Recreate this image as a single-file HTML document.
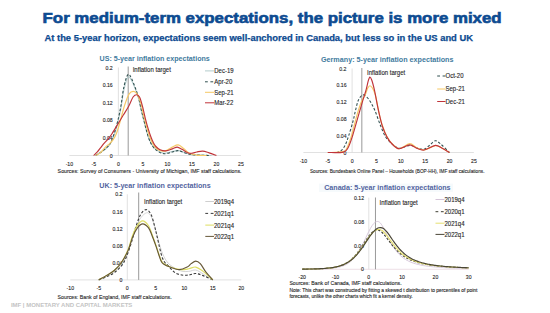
<!DOCTYPE html>
<html><head><meta charset="utf-8"><style>
html,body{margin:0;padding:0;background:#fff;width:550px;height:313px;overflow:hidden}
svg{display:block;font-family:"Liberation Sans", sans-serif}
</style></head><body>
<svg width="550" height="313" viewBox="0 0 550 313">
<rect width="550" height="313" fill="#ffffff"/>
<text x="42.6" y="22.8" font-size="14.5" font-weight="bold" fill="#0d4b91" stroke="#0d4b91" stroke-width="0.6" textLength="459" lengthAdjust="spacingAndGlyphs">For medium-term expectations, the picture is more mixed</text>
<text x="44.5" y="40.8" font-size="9" font-weight="bold" fill="#0d4b91" stroke="#0d4b91" stroke-width="0.25" textLength="428.5" lengthAdjust="spacingAndGlyphs">At the 5-year horizon, expectations seem well-anchored in Canada, but less so in the US and UK</text>
<line x1="69.40" y1="155.50" x2="240.90" y2="155.50" stroke="#d9d9d9" stroke-width="0.8"/>
<line x1="118.40" y1="155.50" x2="118.40" y2="67.50" stroke="#d9d9d9" stroke-width="0.8"/>
<text x="112.7" y="69.6" font-size="6.0" fill="#262626" font-weight="normal" text-anchor="end" textLength="7.2" lengthAdjust="spacingAndGlyphs" stroke="#262626" stroke-width="0.12">0.2</text>
<text x="112.7" y="87.2" font-size="6.0" fill="#262626" font-weight="normal" text-anchor="end" textLength="10.0" lengthAdjust="spacingAndGlyphs" stroke="#262626" stroke-width="0.12">0.16</text>
<text x="112.7" y="104.8" font-size="6.0" fill="#262626" font-weight="normal" text-anchor="end" textLength="10.0" lengthAdjust="spacingAndGlyphs" stroke="#262626" stroke-width="0.12">0.12</text>
<text x="112.7" y="122.4" font-size="6.0" fill="#262626" font-weight="normal" text-anchor="end" textLength="10.0" lengthAdjust="spacingAndGlyphs" stroke="#262626" stroke-width="0.12">0.08</text>
<text x="112.7" y="140.0" font-size="6.0" fill="#262626" font-weight="normal" text-anchor="end" textLength="10.0" lengthAdjust="spacingAndGlyphs" stroke="#262626" stroke-width="0.12">0.04</text>
<text x="112.7" y="157.6" font-size="6.0" fill="#262626" font-weight="normal" text-anchor="end" textLength="2.9" lengthAdjust="spacingAndGlyphs" stroke="#262626" stroke-width="0.12">0</text>
<text x="69.4" y="165.6" font-size="6.0" fill="#262626" font-weight="normal" text-anchor="middle" textLength="7.5" lengthAdjust="spacingAndGlyphs" stroke="#262626" stroke-width="0.12">-10</text>
<text x="93.9" y="165.6" font-size="6.0" fill="#262626" font-weight="normal" text-anchor="middle" textLength="4.6" lengthAdjust="spacingAndGlyphs" stroke="#262626" stroke-width="0.12">-5</text>
<text x="118.4" y="165.6" font-size="6.0" fill="#262626" font-weight="normal" text-anchor="middle" textLength="2.9" lengthAdjust="spacingAndGlyphs" stroke="#262626" stroke-width="0.12">0</text>
<text x="142.9" y="165.6" font-size="6.0" fill="#262626" font-weight="normal" text-anchor="middle" textLength="2.9" lengthAdjust="spacingAndGlyphs" stroke="#262626" stroke-width="0.12">5</text>
<text x="167.4" y="165.6" font-size="6.0" fill="#262626" font-weight="normal" text-anchor="middle" textLength="5.7" lengthAdjust="spacingAndGlyphs" stroke="#262626" stroke-width="0.12">10</text>
<text x="191.9" y="165.6" font-size="6.0" fill="#262626" font-weight="normal" text-anchor="middle" textLength="5.7" lengthAdjust="spacingAndGlyphs" stroke="#262626" stroke-width="0.12">15</text>
<text x="216.4" y="165.6" font-size="6.0" fill="#262626" font-weight="normal" text-anchor="middle" textLength="5.7" lengthAdjust="spacingAndGlyphs" stroke="#262626" stroke-width="0.12">20</text>
<text x="240.9" y="165.6" font-size="6.0" fill="#262626" font-weight="normal" text-anchor="middle" textLength="5.7" lengthAdjust="spacingAndGlyphs" stroke="#262626" stroke-width="0.12">25</text>
<line x1="128.20" y1="155.50" x2="128.20" y2="66.50" stroke="#999999" stroke-width="1.0"/>
<text x="132.7" y="72.2" font-size="6.6" fill="#262626" font-weight="normal" textLength="38.2" lengthAdjust="spacingAndGlyphs" stroke="#262626" stroke-width="0.12">Inflation target</text>
<path d="M94.88,155.50 C95.94,154.91 99.37,153.15 101.25,151.98 C103.13,150.81 104.76,149.63 106.15,148.46 C107.54,147.29 108.60,146.26 109.58,144.94 C110.56,143.62 111.17,142.45 112.03,140.54 C112.89,138.63 113.75,136.58 114.73,133.50 C115.71,130.42 116.85,126.46 117.91,122.06 C118.97,117.66 120.11,112.38 121.09,107.10 C122.08,101.82 122.65,95.37 123.79,90.38 C124.93,85.39 126.57,78.65 127.96,77.18 C129.34,75.71 130.41,78.21 132.12,81.58 C133.83,84.95 136.73,92.80 138.20,97.42 C139.67,102.04 140.06,105.63 140.94,109.30 C141.82,112.97 142.26,114.80 143.49,119.42 C144.71,124.04 146.75,132.62 148.29,137.02 C149.83,141.42 151.15,143.55 152.70,145.82 C154.25,148.09 155.72,149.41 157.60,150.66 C159.48,151.91 161.52,153.15 163.97,153.30 C166.42,153.45 169.93,151.98 172.30,151.54 C174.67,151.10 176.14,150.51 178.18,150.66 C180.22,150.81 182.26,151.76 184.55,152.42 C186.84,153.08 189.04,154.18 191.90,154.62 C194.76,155.06 198.43,154.91 201.70,155.06 C204.97,155.21 209.87,155.43 211.50,155.50" fill="none" stroke="#b3cccc" stroke-width="1.1" stroke-linejoin="round"/>
<path d="M95.86,155.50 C96.76,154.91 99.53,153.23 101.25,151.98 C102.97,150.73 104.76,149.27 106.15,148.02 C107.54,146.77 108.60,145.89 109.58,144.50 C110.56,143.11 111.17,141.79 112.03,139.66 C112.89,137.53 113.75,134.97 114.73,131.74 C115.71,128.51 116.85,124.77 117.91,120.30 C118.97,115.83 120.11,110.40 121.09,104.90 C122.08,99.40 122.65,92.36 123.79,87.30 C124.93,82.24 126.57,75.79 127.96,74.54 C129.34,73.29 130.41,76.19 132.12,79.82 C133.83,83.45 136.73,91.55 138.20,96.32 C139.67,101.09 140.06,104.72 140.94,108.42 C141.82,112.12 142.26,113.77 143.49,118.54 C144.71,123.31 146.75,132.40 148.29,137.02 C149.83,141.64 151.15,143.91 152.70,146.26 C154.25,148.61 155.72,149.85 157.60,151.10 C159.48,152.35 161.52,153.59 163.97,153.74 C166.42,153.89 169.93,152.49 172.30,151.98 C174.67,151.47 176.14,150.51 178.18,150.66 C180.22,150.81 182.26,152.20 184.55,152.86 C186.84,153.52 187.74,154.18 191.90,154.62 C196.06,155.06 206.60,155.35 209.54,155.50" fill="none" stroke="#2f4f4f" stroke-width="1.05" stroke-dasharray="2.6,1.8" stroke-linejoin="round"/>
<path d="M95.86,155.50 C96.60,155.06 98.72,154.22 100.27,152.86 C101.82,151.50 103.62,148.86 105.17,147.32 C106.72,145.78 108.25,144.90 109.58,143.62 C110.91,142.34 112.01,141.35 113.16,139.66 C114.30,137.97 115.32,136.36 116.44,133.50 C117.56,130.64 118.52,127.16 119.87,122.50 C121.22,117.84 122.97,110.28 124.53,105.52 C126.08,100.75 127.73,96.25 129.18,93.90 C130.63,91.55 131.94,91.39 133.25,91.39 C134.55,91.39 135.74,91.87 137.02,93.90 C138.30,95.93 139.72,99.47 140.94,103.58 C142.16,107.69 142.90,112.97 144.37,118.54 C145.84,124.11 148.13,132.47 149.76,137.02 C151.39,141.57 152.62,143.62 154.17,145.82 C155.72,148.02 157.27,149.34 159.07,150.22 C160.87,151.10 162.75,151.61 164.95,151.10 C167.16,150.59 170.10,148.17 172.30,147.14 C174.50,146.11 176.30,144.72 178.18,144.94 C180.06,145.16 181.69,147.07 183.57,148.46 C185.45,149.85 187.25,152.20 189.45,153.30 C191.66,154.40 193.94,154.69 196.80,155.06 C199.66,155.43 204.97,155.43 206.60,155.50" fill="none" stroke="#f6c865" stroke-width="1.15" stroke-linejoin="round"/>
<path d="M93.61,155.50 C94.23,154.91 95.89,153.64 97.33,151.98 C98.77,150.32 100.41,147.71 102.23,145.51 C104.05,143.31 106.63,140.75 108.26,138.78 C109.88,136.81 110.29,136.32 111.98,133.72 C113.67,131.12 116.51,126.32 118.40,123.20 C120.29,120.09 121.56,117.89 123.30,115.02 C125.04,112.15 127.20,109.01 128.84,106.00 C130.47,102.99 131.78,98.85 133.10,96.98 C134.42,95.11 135.71,94.78 136.78,94.78 C137.84,94.78 138.81,96.10 139.47,96.98 C140.13,97.86 140.17,98.23 140.74,100.06 C141.32,101.89 142.13,104.90 142.90,107.98 C143.67,111.06 144.45,115.02 145.35,118.54 C146.25,122.06 147.36,126.02 148.29,129.10 C149.22,132.18 150.12,134.82 150.94,137.02 C151.75,139.22 152.41,140.76 153.19,142.30 C153.97,143.84 154.50,145.01 155.64,146.26 C156.78,147.51 158.34,149.01 160.05,149.78 C161.77,150.55 163.89,151.03 165.93,150.88 C167.97,150.73 170.42,149.52 172.30,148.90 C174.18,148.28 175.57,147.07 177.20,147.14 C178.83,147.21 180.47,148.46 182.10,149.34 C183.73,150.22 185.45,151.76 187.00,152.42 C188.55,153.08 189.78,153.37 191.41,153.30 C193.04,153.23 194.92,152.35 196.80,151.98 C198.68,151.61 200.64,150.95 202.68,151.10 C204.72,151.25 206.76,152.13 209.05,152.86 C211.34,153.59 215.18,155.06 216.40,155.50" fill="none" stroke="#c0343a" stroke-width="1.15" stroke-linejoin="round"/>
<line x1="205.00" y1="70.90" x2="214.30" y2="70.90" stroke="#b3cccc" stroke-width="1.0"/>
<text x="214.3" y="73.3" font-size="6.4" fill="#262626" font-weight="normal" textLength="19.3" lengthAdjust="spacingAndGlyphs" stroke="#262626" stroke-width="0.12">Dec-19</text>
<line x1="205.00" y1="81.80" x2="214.30" y2="81.80" stroke="#2f4f4f" stroke-width="1.0" stroke-dasharray="2.8,2.6"/>
<text x="214.3" y="84.2" font-size="6.4" fill="#262626" font-weight="normal" textLength="18.0" lengthAdjust="spacingAndGlyphs" stroke="#262626" stroke-width="0.12">Apr-20</text>
<line x1="205.00" y1="92.30" x2="214.30" y2="92.30" stroke="#f6c865" stroke-width="1.0"/>
<text x="214.3" y="94.7" font-size="6.4" fill="#262626" font-weight="normal" textLength="19.3" lengthAdjust="spacingAndGlyphs" stroke="#262626" stroke-width="0.12">Sep-21</text>
<line x1="205.00" y1="102.80" x2="214.30" y2="102.80" stroke="#c0343a" stroke-width="1.0"/>
<text x="214.3" y="105.2" font-size="6.4" fill="#262626" font-weight="normal" textLength="19.0" lengthAdjust="spacingAndGlyphs" stroke="#262626" stroke-width="0.12">Mar-22</text>
<text x="99.5" y="60.8" font-size="7.8" fill="#3f7b9e" font-weight="bold" textLength="110.3" lengthAdjust="spacingAndGlyphs">US: 5-year inflation expectations</text>
<text x="57.6" y="172.6" font-size="6.0" fill="#262626" font-weight="normal" textLength="184.0" lengthAdjust="spacingAndGlyphs" stroke="#262626" stroke-width="0.12">Sources: Survey of Consumers - University of Michigan, IMF staff calculations.</text>
<line x1="303.40" y1="152.50" x2="473.85" y2="152.50" stroke="#d9d9d9" stroke-width="0.8"/>
<line x1="352.10" y1="152.50" x2="352.10" y2="68.50" stroke="#d9d9d9" stroke-width="0.8"/>
<text x="346.5" y="70.6" font-size="6.0" fill="#262626" font-weight="normal" text-anchor="end" textLength="7.2" lengthAdjust="spacingAndGlyphs" stroke="#262626" stroke-width="0.12">0.2</text>
<text x="346.5" y="87.4" font-size="6.0" fill="#262626" font-weight="normal" text-anchor="end" textLength="10.0" lengthAdjust="spacingAndGlyphs" stroke="#262626" stroke-width="0.12">0.16</text>
<text x="346.5" y="104.2" font-size="6.0" fill="#262626" font-weight="normal" text-anchor="end" textLength="10.0" lengthAdjust="spacingAndGlyphs" stroke="#262626" stroke-width="0.12">0.12</text>
<text x="346.5" y="121.0" font-size="6.0" fill="#262626" font-weight="normal" text-anchor="end" textLength="10.0" lengthAdjust="spacingAndGlyphs" stroke="#262626" stroke-width="0.12">0.08</text>
<text x="346.5" y="137.8" font-size="6.0" fill="#262626" font-weight="normal" text-anchor="end" textLength="10.0" lengthAdjust="spacingAndGlyphs" stroke="#262626" stroke-width="0.12">0.04</text>
<text x="346.5" y="154.6" font-size="6.0" fill="#262626" font-weight="normal" text-anchor="end" textLength="2.9" lengthAdjust="spacingAndGlyphs" stroke="#262626" stroke-width="0.12">0</text>
<text x="303.4" y="163.1" font-size="6.0" fill="#262626" font-weight="normal" text-anchor="middle" textLength="7.5" lengthAdjust="spacingAndGlyphs" stroke="#262626" stroke-width="0.12">-10</text>
<text x="327.8" y="163.1" font-size="6.0" fill="#262626" font-weight="normal" text-anchor="middle" textLength="4.6" lengthAdjust="spacingAndGlyphs" stroke="#262626" stroke-width="0.12">-5</text>
<text x="352.1" y="163.1" font-size="6.0" fill="#262626" font-weight="normal" text-anchor="middle" textLength="2.9" lengthAdjust="spacingAndGlyphs" stroke="#262626" stroke-width="0.12">0</text>
<text x="376.5" y="163.1" font-size="6.0" fill="#262626" font-weight="normal" text-anchor="middle" textLength="2.9" lengthAdjust="spacingAndGlyphs" stroke="#262626" stroke-width="0.12">5</text>
<text x="400.8" y="163.1" font-size="6.0" fill="#262626" font-weight="normal" text-anchor="middle" textLength="5.7" lengthAdjust="spacingAndGlyphs" stroke="#262626" stroke-width="0.12">10</text>
<text x="425.2" y="163.1" font-size="6.0" fill="#262626" font-weight="normal" text-anchor="middle" textLength="5.7" lengthAdjust="spacingAndGlyphs" stroke="#262626" stroke-width="0.12">15</text>
<text x="449.5" y="163.1" font-size="6.0" fill="#262626" font-weight="normal" text-anchor="middle" textLength="5.7" lengthAdjust="spacingAndGlyphs" stroke="#262626" stroke-width="0.12">20</text>
<text x="473.9" y="163.1" font-size="6.0" fill="#262626" font-weight="normal" text-anchor="middle" textLength="5.7" lengthAdjust="spacingAndGlyphs" stroke="#262626" stroke-width="0.12">25</text>
<line x1="361.84" y1="152.50" x2="361.84" y2="68.00" stroke="#999999" stroke-width="1.0"/>
<text x="367.0" y="75.0" font-size="6.6" fill="#262626" font-weight="normal" textLength="38.2" lengthAdjust="spacingAndGlyphs" stroke="#262626" stroke-width="0.12">Inflation target</text>
<path d="M336.52,152.50 C337.33,152.15 339.93,151.66 341.39,150.40 C342.85,149.14 344.06,147.39 345.28,144.94 C346.50,142.49 347.39,139.69 348.69,135.70 C349.99,131.71 351.94,125.20 353.07,121.00 C354.21,116.80 354.62,114.00 355.51,110.50 C356.40,107.00 357.21,102.59 358.43,100.00 C359.65,97.41 361.43,95.45 362.81,94.96 C364.19,94.47 365.41,95.87 366.71,97.06 C368.01,98.25 369.23,99.82 370.61,102.10 C371.99,104.38 373.37,106.86 374.99,110.71 C376.61,114.56 378.56,120.83 380.35,125.20 C382.13,129.57 383.51,133.67 385.70,136.96 C387.89,140.25 391.14,143.05 393.50,144.94 C395.85,146.83 397.07,148.23 399.83,148.30 C402.59,148.37 407.05,145.36 410.05,145.36 C413.06,145.36 415.49,147.67 417.85,148.30 C420.20,148.93 422.15,149.70 424.18,149.14 C426.21,148.58 428.15,146.34 430.02,144.94 C431.89,143.54 433.59,140.88 435.38,140.74 C437.16,140.60 438.38,142.14 440.73,144.10 C443.09,146.06 448.04,151.10 449.50,152.50" fill="none" stroke="#2f4f4f" stroke-width="1.05" stroke-dasharray="2.6,1.8" stroke-linejoin="round"/>
<path d="M327.75,152.50 C330.35,152.36 340.01,152.71 343.33,151.66 C346.66,150.61 346.26,149.21 347.72,146.20 C349.18,143.19 350.64,138.50 352.10,133.60 C353.56,128.70 355.02,121.91 356.48,116.80 C357.94,111.69 359.41,106.62 360.87,102.94 C362.33,99.26 364.11,97.16 365.25,94.71 C366.39,92.26 366.90,89.74 367.68,88.24 C368.46,86.74 369.11,85.72 369.92,85.72 C370.74,85.72 371.66,86.74 372.55,88.24 C373.45,89.74 374.55,92.40 375.28,94.71 C376.01,97.02 376.34,99.12 376.94,102.10 C377.54,105.08 377.99,108.75 378.89,112.60 C379.78,116.45 380.91,121.14 382.29,125.20 C383.67,129.26 385.46,133.81 387.16,136.96 C388.87,140.11 390.49,142.14 392.52,144.10 C394.55,146.06 396.50,148.79 399.34,148.72 C402.18,148.65 406.64,143.82 409.57,143.68 C412.49,143.54 414.44,146.83 416.87,147.88 C419.31,148.93 421.09,150.33 424.18,149.98 C427.26,149.63 432.37,146.06 435.38,145.78 C438.38,145.50 439.84,147.18 442.20,148.30 C444.55,149.42 448.28,151.80 449.50,152.50" fill="none" stroke="#f6c865" stroke-width="1.15" stroke-linejoin="round"/>
<path d="M327.75,152.50 C330.35,152.43 339.93,152.92 343.33,152.08 C346.74,151.24 346.66,150.19 348.20,147.46 C349.75,144.73 351.04,140.46 352.59,135.70 C354.13,130.94 355.83,124.50 357.46,118.90 C359.08,113.30 360.89,106.93 362.33,102.10 C363.76,97.27 365.10,93.42 366.08,89.92 C367.05,86.42 367.53,83.23 368.17,81.10 C368.81,78.96 369.32,77.25 369.92,77.11 C370.53,76.97 371.08,78.12 371.82,80.26 C372.57,82.40 373.63,86.56 374.40,89.92 C375.18,93.28 375.77,96.99 376.45,100.42 C377.13,103.85 377.52,106.23 378.50,110.50 C379.47,114.77 380.85,121.56 382.29,126.04 C383.74,130.52 385.46,134.30 387.16,137.38 C388.87,140.46 390.49,142.63 392.52,144.52 C394.55,146.41 396.50,148.65 399.34,148.72 C402.18,148.79 406.64,145.01 409.57,144.94 C412.49,144.87 414.44,147.46 416.87,148.30 C419.31,149.14 421.09,150.47 424.18,149.98 C427.26,149.49 432.37,145.64 435.38,145.36 C438.38,145.08 439.84,147.11 442.20,148.30 C444.55,149.49 448.28,151.80 449.50,152.50" fill="none" stroke="#c0343a" stroke-width="1.15" stroke-linejoin="round"/>
<line x1="437.20" y1="76.00" x2="445.50" y2="76.00" stroke="#2f4f4f" stroke-width="1.0" stroke-dasharray="2.8,2.6"/>
<text x="445.5" y="78.4" font-size="6.4" fill="#262626" font-weight="normal" textLength="18.0" lengthAdjust="spacingAndGlyphs" stroke="#262626" stroke-width="0.12">Oct-20</text>
<line x1="437.20" y1="89.00" x2="445.50" y2="89.00" stroke="#f6c865" stroke-width="1.0"/>
<text x="445.5" y="91.4" font-size="6.4" fill="#262626" font-weight="normal" textLength="19.3" lengthAdjust="spacingAndGlyphs" stroke="#262626" stroke-width="0.12">Sep-21</text>
<line x1="437.20" y1="101.50" x2="445.50" y2="101.50" stroke="#c0343a" stroke-width="1.0"/>
<text x="445.5" y="103.9" font-size="6.4" fill="#262626" font-weight="normal" textLength="19.3" lengthAdjust="spacingAndGlyphs" stroke="#262626" stroke-width="0.12">Dec-21</text>
<text x="321.0" y="61.6" font-size="7.8" fill="#3f7b9e" font-weight="bold" textLength="132.5" lengthAdjust="spacingAndGlyphs">Germany: 5-year inflation expectations</text>
<text x="309.9" y="172.6" font-size="6.0" fill="#262626" font-weight="normal" textLength="174.6" lengthAdjust="spacingAndGlyphs" stroke="#262626" stroke-width="0.12">Sources: Bundesbank Online Panel – Households (BOP-HH), IMF staff calculations.</text>
<line x1="70.30" y1="279.90" x2="241.30" y2="279.90" stroke="#d9d9d9" stroke-width="0.8"/>
<line x1="127.30" y1="279.90" x2="127.30" y2="194.30" stroke="#d9d9d9" stroke-width="0.8"/>
<text x="122.5" y="196.4" font-size="6.0" fill="#262626" font-weight="normal" text-anchor="end" textLength="7.2" lengthAdjust="spacingAndGlyphs" stroke="#262626" stroke-width="0.12">0.2</text>
<text x="122.5" y="213.5" font-size="6.0" fill="#262626" font-weight="normal" text-anchor="end" textLength="10.0" lengthAdjust="spacingAndGlyphs" stroke="#262626" stroke-width="0.12">0.16</text>
<text x="122.5" y="230.6" font-size="6.0" fill="#262626" font-weight="normal" text-anchor="end" textLength="10.0" lengthAdjust="spacingAndGlyphs" stroke="#262626" stroke-width="0.12">0.12</text>
<text x="122.5" y="247.8" font-size="6.0" fill="#262626" font-weight="normal" text-anchor="end" textLength="10.0" lengthAdjust="spacingAndGlyphs" stroke="#262626" stroke-width="0.12">0.08</text>
<text x="122.5" y="264.9" font-size="6.0" fill="#262626" font-weight="normal" text-anchor="end" textLength="10.0" lengthAdjust="spacingAndGlyphs" stroke="#262626" stroke-width="0.12">0.04</text>
<text x="122.5" y="282.0" font-size="6.0" fill="#262626" font-weight="normal" text-anchor="end" textLength="2.9" lengthAdjust="spacingAndGlyphs" stroke="#262626" stroke-width="0.12">0</text>
<text x="70.3" y="290.3" font-size="6.0" fill="#262626" font-weight="normal" text-anchor="middle" textLength="7.5" lengthAdjust="spacingAndGlyphs" stroke="#262626" stroke-width="0.12">-10</text>
<text x="98.8" y="290.3" font-size="6.0" fill="#262626" font-weight="normal" text-anchor="middle" textLength="4.6" lengthAdjust="spacingAndGlyphs" stroke="#262626" stroke-width="0.12">-5</text>
<text x="127.3" y="290.3" font-size="6.0" fill="#262626" font-weight="normal" text-anchor="middle" textLength="2.9" lengthAdjust="spacingAndGlyphs" stroke="#262626" stroke-width="0.12">0</text>
<text x="155.8" y="290.3" font-size="6.0" fill="#262626" font-weight="normal" text-anchor="middle" textLength="2.9" lengthAdjust="spacingAndGlyphs" stroke="#262626" stroke-width="0.12">5</text>
<text x="184.3" y="290.3" font-size="6.0" fill="#262626" font-weight="normal" text-anchor="middle" textLength="5.7" lengthAdjust="spacingAndGlyphs" stroke="#262626" stroke-width="0.12">10</text>
<text x="212.8" y="290.3" font-size="6.0" fill="#262626" font-weight="normal" text-anchor="middle" textLength="5.7" lengthAdjust="spacingAndGlyphs" stroke="#262626" stroke-width="0.12">15</text>
<text x="241.3" y="290.3" font-size="6.0" fill="#262626" font-weight="normal" text-anchor="middle" textLength="5.7" lengthAdjust="spacingAndGlyphs" stroke="#262626" stroke-width="0.12">20</text>
<line x1="138.70" y1="279.90" x2="138.70" y2="192.50" stroke="#999999" stroke-width="1.0"/>
<text x="144.1" y="203.8" font-size="6.6" fill="#262626" font-weight="normal" textLength="38.2" lengthAdjust="spacingAndGlyphs" stroke="#262626" stroke-width="0.12">Inflation target</text>
<path d="M98.80,279.90 C100.03,279.33 103.55,277.90 106.21,276.48 C108.87,275.05 112.00,273.62 114.76,271.34 C117.51,269.06 120.27,266.77 122.74,262.78 C125.21,258.79 127.58,252.51 129.58,247.37 C131.57,242.24 133.00,236.67 134.71,231.96 C136.42,227.26 137.75,222.33 139.84,219.12 C141.93,215.91 145.16,212.70 147.25,212.70 C149.34,212.70 150.95,216.13 152.38,219.12 C153.81,222.12 154.66,226.61 155.80,230.68 C156.94,234.75 157.89,239.24 159.22,243.52 C160.55,247.80 161.97,252.79 163.78,256.36 C165.59,259.93 167.20,262.49 170.05,264.92 C172.90,267.35 177.75,269.84 180.88,270.91 C184.01,271.98 186.39,271.48 188.86,271.34 C191.33,271.20 193.32,269.63 195.70,270.06 C198.07,270.48 200.26,272.27 203.11,273.91 C205.96,275.55 211.19,278.90 212.80,279.90" fill="none" stroke="#cfcfcf" stroke-width="0.9" stroke-linejoin="round"/>
<path d="M98.80,279.90 C100.03,279.40 103.55,278.19 106.21,276.90 C108.87,275.62 111.86,274.55 114.76,272.20 C117.66,269.84 121.03,267.06 123.59,262.78 C126.16,258.50 128.30,251.87 130.15,246.52 C132.00,241.17 133.29,235.32 134.71,230.68 C136.13,226.04 137.46,221.76 138.70,218.70 C139.94,215.63 140.79,213.77 142.12,212.28 C143.45,210.78 145.16,209.28 146.68,209.71 C148.20,210.14 149.91,212.06 151.24,214.84 C152.57,217.63 153.66,222.69 154.66,226.40 C155.66,230.11 155.89,231.75 157.22,237.10 C158.56,242.45 160.60,253.51 162.64,258.50 C164.68,263.49 167.30,264.63 169.48,267.06 C171.67,269.49 173.47,271.70 175.75,273.05 C178.03,274.41 180.78,274.91 183.16,275.19 C185.53,275.48 187.91,275.05 190.00,274.76 C192.09,274.48 193.51,273.34 195.70,273.48 C197.88,273.62 200.26,274.55 203.11,275.62 C205.96,276.69 211.19,279.19 212.80,279.90" fill="none" stroke="#3a3a3a" stroke-width="1.1" stroke-dasharray="2.6,1.8" stroke-linejoin="round"/>
<path d="M98.80,279.90 C100.03,279.19 103.64,277.19 106.21,275.62 C108.77,274.05 111.67,272.62 114.19,270.48 C116.71,268.34 119.00,266.28 121.31,262.78 C123.63,259.28 126.22,254.08 128.10,249.51 C129.98,244.95 131.02,239.45 132.60,235.39 C134.18,231.32 135.88,227.54 137.56,225.12 C139.24,222.69 140.88,220.76 142.69,220.84 C144.50,220.91 146.87,223.40 148.39,225.54 C149.91,227.68 150.57,230.47 151.81,233.68 C153.05,236.89 154.28,240.45 155.80,244.80 C157.32,249.16 159.50,256.57 160.93,259.78 C162.36,262.99 162.83,262.85 164.35,264.06 C165.87,265.28 167.30,266.13 170.05,267.06 C172.81,267.99 177.75,269.34 180.88,269.63 C184.01,269.91 186.39,269.20 188.86,268.77 C191.33,268.34 193.32,266.63 195.70,267.06 C198.07,267.49 200.26,269.20 203.11,271.34 C205.96,273.48 211.19,278.47 212.80,279.90" fill="none" stroke="#dede62" stroke-width="1.15" stroke-linejoin="round"/>
<path d="M98.80,279.90 C100.03,279.19 103.64,277.19 106.21,275.62 C108.77,274.05 111.67,272.62 114.19,270.48 C116.71,268.34 119.00,266.13 121.31,262.78 C123.63,259.43 126.22,254.65 128.10,250.37 C129.98,246.09 131.02,240.88 132.60,237.10 C134.18,233.32 135.88,229.90 137.56,227.68 C139.24,225.47 140.88,223.83 142.69,223.83 C144.50,223.83 146.87,225.83 148.39,227.68 C149.91,229.54 150.57,231.96 151.81,234.96 C153.05,237.96 154.28,241.38 155.80,245.66 C157.32,249.94 159.50,257.50 160.93,260.64 C162.36,263.78 162.83,263.42 164.35,264.49 C165.87,265.56 167.58,266.20 170.05,267.06 C172.52,267.92 176.32,269.63 179.17,269.63 C182.02,269.63 185.16,268.06 187.15,267.06 C189.15,266.06 189.71,264.63 191.14,263.64 C192.56,262.64 194.18,261.07 195.70,261.07 C197.22,261.07 198.55,261.78 200.26,263.64 C201.97,265.49 203.87,269.49 205.96,272.20 C208.05,274.91 211.66,278.62 212.80,279.90" fill="none" stroke="#665838" stroke-width="1.15" stroke-linejoin="round"/>
<line x1="205.30" y1="201.50" x2="214.00" y2="201.50" stroke="#cfcfcf" stroke-width="1.0"/>
<text x="214.0" y="203.9" font-size="6.4" fill="#262626" font-weight="normal" textLength="20.0" lengthAdjust="spacingAndGlyphs" stroke="#262626" stroke-width="0.12">2019q4</text>
<line x1="205.30" y1="213.40" x2="214.00" y2="213.40" stroke="#3a3a3a" stroke-width="1.0" stroke-dasharray="2.8,2.6"/>
<text x="214.0" y="215.8" font-size="6.4" fill="#262626" font-weight="normal" textLength="20.0" lengthAdjust="spacingAndGlyphs" stroke="#262626" stroke-width="0.12">2021q1</text>
<line x1="205.30" y1="225.10" x2="214.00" y2="225.10" stroke="#dede62" stroke-width="1.0"/>
<text x="214.0" y="227.5" font-size="6.4" fill="#262626" font-weight="normal" textLength="20.0" lengthAdjust="spacingAndGlyphs" stroke="#262626" stroke-width="0.12">2021q4</text>
<line x1="205.30" y1="236.40" x2="214.00" y2="236.40" stroke="#665838" stroke-width="1.0"/>
<text x="214.0" y="238.8" font-size="6.4" fill="#262626" font-weight="normal" textLength="20.0" lengthAdjust="spacingAndGlyphs" stroke="#262626" stroke-width="0.12">2022q1</text>
<text x="99.3" y="187.8" font-size="7.8" fill="#5364a0" font-weight="bold" textLength="111.4" lengthAdjust="spacingAndGlyphs">UK: 5-year inflation expectations</text>
<text x="57.6" y="299.0" font-size="6.0" fill="#262626" font-weight="normal" textLength="114.1" lengthAdjust="spacingAndGlyphs" stroke="#262626" stroke-width="0.12">Sources: Bank of England, IMF staff calculations.</text>
<line x1="302.20" y1="269.30" x2="468.70" y2="269.30" stroke="#e8d8e0" stroke-width="0.8"/>
<line x1="368.80" y1="269.30" x2="368.80" y2="197.66" stroke="#d9d9d9" stroke-width="0.8"/>
<text x="364.0" y="199.8" font-size="6.0" fill="#262626" font-weight="normal" text-anchor="end" textLength="10.0" lengthAdjust="spacingAndGlyphs" stroke="#262626" stroke-width="0.12">0.12</text>
<text x="364.0" y="223.6" font-size="6.0" fill="#262626" font-weight="normal" text-anchor="end" textLength="10.0" lengthAdjust="spacingAndGlyphs" stroke="#262626" stroke-width="0.12">0.08</text>
<text x="364.0" y="247.5" font-size="6.0" fill="#262626" font-weight="normal" text-anchor="end" textLength="10.0" lengthAdjust="spacingAndGlyphs" stroke="#262626" stroke-width="0.12">0.04</text>
<text x="364.0" y="271.4" font-size="6.0" fill="#262626" font-weight="normal" text-anchor="end" textLength="2.9" lengthAdjust="spacingAndGlyphs" stroke="#262626" stroke-width="0.12">0</text>
<text x="302.2" y="278.7" font-size="6.0" fill="#262626" font-weight="normal" text-anchor="middle" textLength="7.5" lengthAdjust="spacingAndGlyphs" stroke="#262626" stroke-width="0.12">-20</text>
<text x="335.5" y="278.7" font-size="6.0" fill="#262626" font-weight="normal" text-anchor="middle" textLength="7.5" lengthAdjust="spacingAndGlyphs" stroke="#262626" stroke-width="0.12">-10</text>
<text x="368.8" y="278.7" font-size="6.0" fill="#262626" font-weight="normal" text-anchor="middle" textLength="2.9" lengthAdjust="spacingAndGlyphs" stroke="#262626" stroke-width="0.12">0</text>
<text x="402.1" y="278.7" font-size="6.0" fill="#262626" font-weight="normal" text-anchor="middle" textLength="5.7" lengthAdjust="spacingAndGlyphs" stroke="#262626" stroke-width="0.12">10</text>
<text x="435.4" y="278.7" font-size="6.0" fill="#262626" font-weight="normal" text-anchor="middle" textLength="5.7" lengthAdjust="spacingAndGlyphs" stroke="#262626" stroke-width="0.12">20</text>
<text x="468.7" y="278.7" font-size="6.0" fill="#262626" font-weight="normal" text-anchor="middle" textLength="5.7" lengthAdjust="spacingAndGlyphs" stroke="#262626" stroke-width="0.12">30</text>
<line x1="375.46" y1="269.30" x2="375.46" y2="197.50" stroke="#999999" stroke-width="1.0"/>
<text x="379.6" y="204.9" font-size="6.6" fill="#262626" font-weight="normal" textLength="38.2" lengthAdjust="spacingAndGlyphs" stroke="#262626" stroke-width="0.12">Inflation target</text>
<path d="M302.20,269.24 C302.48,269.23 303.31,269.23 303.87,269.23 C304.42,269.22 304.98,269.22 305.53,269.22 C306.09,269.21 306.64,269.21 307.19,269.20 C307.75,269.20 308.31,269.19 308.86,269.19 C309.42,269.18 309.97,269.18 310.53,269.17 C311.08,269.16 311.63,269.16 312.19,269.15 C312.75,269.14 313.30,269.13 313.86,269.13 C314.41,269.12 314.96,269.11 315.52,269.10 C316.07,269.09 316.63,269.08 317.19,269.06 C317.74,269.05 318.30,269.04 318.85,269.02 C319.41,269.01 319.96,268.99 320.51,268.98 C321.07,268.96 321.62,268.94 322.18,268.92 C322.74,268.90 323.29,268.88 323.85,268.85 C324.40,268.83 324.95,268.80 325.51,268.77 C326.06,268.74 326.62,268.71 327.18,268.67 C327.73,268.64 328.29,268.60 328.84,268.56 C329.40,268.51 329.95,268.47 330.50,268.42 C331.06,268.36 331.62,268.31 332.17,268.25 C332.73,268.19 333.28,268.12 333.84,268.05 C334.39,267.97 334.94,267.89 335.50,267.80 C336.06,267.71 336.61,267.62 337.17,267.51 C337.72,267.40 338.28,267.28 338.83,267.15 C339.39,267.02 339.94,266.88 340.50,266.72 C341.05,266.57 341.61,266.40 342.16,266.21 C342.72,266.02 343.27,265.82 343.82,265.59 C344.38,265.36 344.94,265.12 345.49,264.85 C346.05,264.57 346.60,264.28 347.16,263.96 C347.71,263.63 348.26,263.28 348.82,262.89 C349.38,262.51 349.93,262.09 350.49,261.63 C351.04,261.18 351.60,260.69 352.15,260.15 C352.71,259.61 353.26,259.04 353.81,258.41 C354.37,257.79 354.93,257.12 355.48,256.40 C356.04,255.68 356.59,254.91 357.14,254.09 C357.70,253.27 358.25,252.40 358.81,251.48 C359.37,250.56 359.92,249.59 360.48,248.58 C361.03,247.56 361.58,246.50 362.14,245.40 C362.69,244.31 363.25,243.17 363.81,242.02 C364.36,240.86 364.92,239.67 365.47,238.49 C366.03,237.31 366.58,236.11 367.13,234.94 C367.69,233.78 368.25,232.61 368.80,231.51 C369.36,230.40 369.91,229.32 370.47,228.34 C371.02,227.35 371.57,226.41 372.13,225.60 C372.69,224.79 373.24,224.05 373.80,223.46 C374.35,222.86 374.91,222.37 375.46,222.04 C376.02,221.70 376.57,221.48 377.12,221.44 C377.68,221.39 378.24,221.49 378.79,221.77 C379.35,222.06 379.90,222.55 380.46,223.16 C381.01,223.77 381.56,224.57 382.12,225.44 C382.68,226.30 383.23,227.32 383.79,228.36 C384.34,229.40 384.89,230.55 385.45,231.68 C386.00,232.81 386.56,233.99 387.12,235.14 C387.67,236.29 388.23,237.45 388.78,238.56 C389.34,239.67 389.89,240.76 390.44,241.80 C391.00,242.84 391.56,243.85 392.11,244.80 C392.67,245.75 393.22,246.66 393.78,247.52 C394.33,248.37 394.88,249.18 395.44,249.94 C396.00,250.70 396.55,251.41 397.11,252.08 C397.66,252.75 398.21,253.37 398.77,253.96 C399.32,254.55 399.88,255.10 400.44,255.61 C400.99,256.13 401.55,256.61 402.10,257.06 C402.66,257.51 403.21,257.92 403.76,258.32 C404.32,258.71 404.88,259.08 405.43,259.42 C405.99,259.77 406.54,260.09 407.10,260.39 C407.65,260.69 408.20,260.97 408.76,261.24 C409.31,261.50 409.87,261.75 410.43,261.99 C410.98,262.22 411.54,262.44 412.09,262.65 C412.65,262.85 413.20,263.05 413.75,263.23 C414.31,263.41 414.87,263.58 415.42,263.75 C415.98,263.91 416.53,264.06 417.09,264.21 C417.64,264.35 418.19,264.49 418.75,264.62 C419.31,264.75 419.86,264.87 420.42,264.98 C420.97,265.10 421.53,265.21 422.08,265.31 C422.64,265.42 423.19,265.52 423.75,265.61 C424.30,265.70 424.86,265.79 425.41,265.88 C425.97,265.96 426.52,266.04 427.07,266.12 C427.63,266.19 428.19,266.27 428.74,266.34 C429.30,266.41 429.85,266.47 430.41,266.54 C430.96,266.60 431.51,266.66 432.07,266.72 C432.62,266.77 433.18,266.83 433.74,266.88 C434.29,266.93 434.84,266.98 435.40,267.03 C435.95,267.08 436.51,267.13 437.06,267.17 C437.62,267.21 438.18,267.26 438.73,267.30 C439.29,267.34 439.84,267.38 440.39,267.41 C440.95,267.45 441.50,267.49 442.06,267.52 C442.62,267.55 443.17,267.59 443.73,267.62 C444.28,267.65 444.83,267.68 445.39,267.71 C445.94,267.74 446.50,267.77 447.06,267.80 C447.61,267.82 448.17,267.85 448.72,267.87 C449.28,267.90 449.83,267.92 450.38,267.95 C450.94,267.97 451.50,267.99 452.05,268.01 C452.61,268.04 453.16,268.06 453.72,268.08 C454.27,268.10 454.82,268.12 455.38,268.14 C455.94,268.16 456.49,268.17 457.05,268.19 C457.60,268.21 458.16,268.23 458.71,268.24 C459.27,268.26 459.82,268.28 460.38,268.29 C460.93,268.31 461.49,268.32 462.04,268.34 C462.60,268.35 463.15,268.37 463.71,268.38 C464.26,268.39 464.81,268.41 465.37,268.42 C465.93,268.43 466.48,268.44 467.04,268.46 C467.59,268.47 468.42,268.49 468.70,268.49" fill="none" stroke="#d4c4d8" stroke-width="0.9" stroke-linejoin="round"/>
<path d="M302.20,269.18 C302.48,269.18 303.31,269.17 303.87,269.17 C304.42,269.16 304.98,269.15 305.53,269.15 C306.09,269.14 306.64,269.13 307.19,269.13 C307.75,269.12 308.31,269.11 308.86,269.10 C309.42,269.09 309.97,269.08 310.53,269.07 C311.08,269.06 311.63,269.05 312.19,269.04 C312.75,269.02 313.30,269.01 313.86,269.00 C314.41,268.98 314.96,268.97 315.52,268.95 C316.07,268.93 316.63,268.92 317.19,268.90 C317.74,268.88 318.30,268.85 318.85,268.83 C319.41,268.81 319.96,268.78 320.51,268.76 C321.07,268.73 321.62,268.70 322.18,268.67 C322.74,268.64 323.29,268.60 323.85,268.57 C324.40,268.53 324.95,268.49 325.51,268.44 C326.06,268.40 326.62,268.35 327.18,268.30 C327.73,268.25 328.29,268.19 328.84,268.13 C329.40,268.07 329.95,268.00 330.50,267.93 C331.06,267.86 331.62,267.78 332.17,267.70 C332.73,267.61 333.28,267.52 333.84,267.42 C334.39,267.32 334.94,267.21 335.50,267.10 C336.06,266.98 336.61,266.85 337.17,266.71 C337.72,266.57 338.28,266.43 338.83,266.26 C339.39,266.10 339.94,265.92 340.50,265.73 C341.05,265.54 341.61,265.34 342.16,265.11 C342.72,264.89 343.27,264.65 343.82,264.39 C344.38,264.13 344.94,263.85 345.49,263.54 C346.05,263.24 346.60,262.92 347.16,262.57 C347.71,262.22 348.26,261.84 348.82,261.44 C349.38,261.04 349.93,260.61 350.49,260.15 C351.04,259.69 351.60,259.20 352.15,258.68 C352.71,258.16 353.26,257.60 353.81,257.02 C354.37,256.44 354.93,255.82 355.48,255.17 C356.04,254.52 356.59,253.84 357.14,253.13 C357.70,252.42 358.25,251.68 358.81,250.92 C359.37,250.15 359.92,249.36 360.48,248.55 C361.03,247.74 361.58,246.90 362.14,246.06 C362.69,245.21 363.25,244.35 363.81,243.50 C364.36,242.64 364.92,241.78 365.47,240.94 C366.03,240.09 366.58,239.25 367.13,238.45 C367.69,237.65 368.25,236.86 368.80,236.13 C369.36,235.39 369.91,234.69 370.47,234.06 C371.02,233.43 371.57,232.84 372.13,232.33 C372.69,231.83 373.24,231.39 373.80,231.04 C374.35,230.69 374.91,230.41 375.46,230.23 C376.02,230.05 376.57,229.95 377.12,229.96 C377.68,229.96 378.24,230.06 378.79,230.25 C379.35,230.45 379.90,230.75 380.46,231.12 C381.01,231.49 381.56,231.96 382.12,232.48 C382.68,233.00 383.23,233.61 383.79,234.24 C384.34,234.87 384.89,235.57 385.45,236.27 C386.00,236.97 386.56,237.72 387.12,238.46 C387.67,239.20 388.23,239.96 388.78,240.71 C389.34,241.45 389.89,242.20 390.44,242.93 C391.00,243.66 391.56,244.38 392.11,245.08 C392.67,245.77 393.22,246.45 393.78,247.10 C394.33,247.75 394.88,248.38 395.44,248.99 C396.00,249.59 396.55,250.17 397.11,250.72 C397.66,251.28 398.21,251.81 398.77,252.31 C399.32,252.81 399.88,253.29 400.44,253.75 C400.99,254.21 401.55,254.64 402.10,255.05 C402.66,255.46 403.21,255.85 403.76,256.23 C404.32,256.60 404.88,256.95 405.43,257.28 C405.99,257.62 406.54,257.94 407.10,258.24 C407.65,258.54 408.20,258.83 408.76,259.10 C409.31,259.37 409.87,259.63 410.43,259.87 C410.98,260.12 411.54,260.35 412.09,260.57 C412.65,260.79 413.20,261.00 413.75,261.21 C414.31,261.41 414.87,261.60 415.42,261.78 C415.98,261.96 416.53,262.13 417.09,262.30 C417.64,262.46 418.19,262.62 418.75,262.77 C419.31,262.92 419.86,263.06 420.42,263.20 C420.97,263.33 421.53,263.46 422.08,263.59 C422.64,263.71 423.19,263.83 423.75,263.95 C424.30,264.06 424.86,264.17 425.41,264.27 C425.97,264.38 426.52,264.48 427.07,264.57 C427.63,264.67 428.19,264.76 428.74,264.85 C429.30,264.94 429.85,265.02 430.41,265.10 C430.96,265.18 431.51,265.26 432.07,265.33 C432.62,265.41 433.18,265.48 433.74,265.55 C434.29,265.62 434.84,265.68 435.40,265.75 C435.95,265.81 436.51,265.87 437.06,265.93 C437.62,265.99 438.18,266.05 438.73,266.10 C439.29,266.16 439.84,266.21 440.39,266.26 C440.95,266.31 441.50,266.36 442.06,266.41 C442.62,266.46 443.17,266.50 443.73,266.55 C444.28,266.59 444.83,266.64 445.39,266.68 C445.94,266.72 446.50,266.76 447.06,266.80 C447.61,266.84 448.17,266.87 448.72,266.91 C449.28,266.95 449.83,266.98 450.38,267.01 C450.94,267.05 451.50,267.08 452.05,267.11 C452.61,267.14 453.16,267.18 453.72,267.21 C454.27,267.24 454.82,267.26 455.38,267.29 C455.94,267.32 456.49,267.35 457.05,267.37 C457.60,267.40 458.16,267.43 458.71,267.45 C459.27,267.48 459.82,267.50 460.38,267.52 C460.93,267.55 461.49,267.57 462.04,267.59 C462.60,267.62 463.15,267.64 463.71,267.66 C464.26,267.68 464.81,267.70 465.37,267.72 C465.93,267.74 466.48,267.76 467.04,267.78 C467.59,267.80 468.42,267.82 468.70,267.83" fill="none" stroke="#3e3e32" stroke-width="1.1" stroke-dasharray="2.4,1.6" stroke-linejoin="round"/>
<path d="M302.20,269.17 C302.48,269.16 303.31,269.15 303.87,269.15 C304.42,269.14 304.98,269.13 305.53,269.13 C306.09,269.12 306.64,269.11 307.19,269.10 C307.75,269.09 308.31,269.08 308.86,269.07 C309.42,269.06 309.97,269.05 310.53,269.04 C311.08,269.03 311.63,269.02 312.19,269.01 C312.75,268.99 313.30,268.98 313.86,268.96 C314.41,268.95 314.96,268.93 315.52,268.91 C316.07,268.89 316.63,268.88 317.19,268.85 C317.74,268.83 318.30,268.81 318.85,268.79 C319.41,268.76 319.96,268.74 320.51,268.71 C321.07,268.68 321.62,268.65 322.18,268.62 C322.74,268.58 323.29,268.55 323.85,268.51 C324.40,268.47 324.95,268.43 325.51,268.38 C326.06,268.34 326.62,268.29 327.18,268.24 C327.73,268.18 328.29,268.13 328.84,268.06 C329.40,268.00 329.95,267.94 330.50,267.86 C331.06,267.79 331.62,267.71 332.17,267.63 C332.73,267.54 333.28,267.45 333.84,267.35 C334.39,267.25 334.94,267.15 335.50,267.03 C336.06,266.91 336.61,266.79 337.17,266.65 C337.72,266.52 338.28,266.37 338.83,266.21 C339.39,266.05 339.94,265.88 340.50,265.70 C341.05,265.51 341.61,265.31 342.16,265.10 C342.72,264.88 343.27,264.65 343.82,264.40 C344.38,264.15 344.94,263.89 345.49,263.60 C346.05,263.31 346.60,263.01 347.16,262.67 C347.71,262.34 348.26,261.99 348.82,261.61 C349.38,261.23 349.93,260.83 350.49,260.40 C351.04,259.97 351.60,259.51 352.15,259.02 C352.71,258.54 353.26,258.02 353.81,257.48 C354.37,256.93 354.93,256.36 355.48,255.75 C356.04,255.15 356.59,254.51 357.14,253.85 C357.70,253.18 358.25,252.49 358.81,251.77 C359.37,251.05 359.92,250.31 360.48,249.54 C361.03,248.77 361.58,247.98 362.14,247.18 C362.69,246.38 363.25,245.55 363.81,244.72 C364.36,243.90 364.92,243.06 365.47,242.23 C366.03,241.40 366.58,240.56 367.13,239.75 C367.69,238.94 368.25,238.13 368.80,237.37 C369.36,236.60 369.91,235.85 370.47,235.16 C371.02,234.46 371.57,233.80 372.13,233.20 C372.69,232.61 373.24,232.05 373.80,231.58 C374.35,231.11 374.91,230.70 375.46,230.37 C376.02,230.04 376.57,229.78 377.12,229.62 C377.68,229.45 378.24,229.35 378.79,229.36 C379.35,229.37 379.90,229.47 380.46,229.67 C381.01,229.87 381.56,230.18 382.12,230.56 C382.68,230.94 383.23,231.43 383.79,231.96 C384.34,232.50 384.89,233.12 385.45,233.77 C386.00,234.42 386.56,235.14 387.12,235.86 C387.67,236.58 388.23,237.35 388.78,238.11 C389.34,238.87 389.89,239.66 390.44,240.42 C391.00,241.19 391.56,241.96 392.11,242.71 C392.67,243.46 393.22,244.20 393.78,244.91 C394.33,245.62 394.88,246.32 395.44,246.99 C396.00,247.65 396.55,248.30 397.11,248.92 C397.66,249.53 398.21,250.13 398.77,250.69 C399.32,251.26 399.88,251.79 400.44,252.31 C400.99,252.82 401.55,253.31 402.10,253.78 C402.66,254.24 403.21,254.68 403.76,255.10 C404.32,255.52 404.88,255.92 405.43,256.29 C405.99,256.67 406.54,257.03 407.10,257.37 C407.65,257.71 408.20,258.03 408.76,258.34 C409.31,258.64 409.87,258.93 410.43,259.20 C410.98,259.48 411.54,259.74 412.09,259.99 C412.65,260.24 413.20,260.47 413.75,260.69 C414.31,260.92 414.87,261.13 415.42,261.33 C415.98,261.53 416.53,261.72 417.09,261.91 C417.64,262.09 418.19,262.26 418.75,262.43 C419.31,262.59 419.86,262.75 420.42,262.90 C420.97,263.05 421.53,263.19 422.08,263.33 C422.64,263.47 423.19,263.60 423.75,263.72 C424.30,263.84 424.86,263.96 425.41,264.08 C425.97,264.19 426.52,264.30 427.07,264.40 C427.63,264.51 428.19,264.61 428.74,264.70 C429.30,264.80 429.85,264.89 430.41,264.97 C430.96,265.06 431.51,265.14 432.07,265.23 C432.62,265.31 433.18,265.38 433.74,265.46 C434.29,265.53 434.84,265.60 435.40,265.67 C435.95,265.74 436.51,265.80 437.06,265.87 C437.62,265.93 438.18,265.99 438.73,266.05 C439.29,266.11 439.84,266.16 440.39,266.22 C440.95,266.27 441.50,266.32 442.06,266.37 C442.62,266.43 443.17,266.47 443.73,266.52 C444.28,266.57 444.83,266.61 445.39,266.66 C445.94,266.70 446.50,266.74 447.06,266.78 C447.61,266.82 448.17,266.86 448.72,266.90 C449.28,266.94 449.83,266.97 450.38,267.01 C450.94,267.05 451.50,267.08 452.05,267.11 C452.61,267.15 453.16,267.18 453.72,267.21 C454.27,267.24 454.82,267.27 455.38,267.30 C455.94,267.33 456.49,267.36 457.05,267.39 C457.60,267.41 458.16,267.44 458.71,267.47 C459.27,267.49 459.82,267.52 460.38,267.54 C460.93,267.56 461.49,267.59 462.04,267.61 C462.60,267.63 463.15,267.66 463.71,267.68 C464.26,267.70 464.81,267.72 465.37,267.74 C465.93,267.76 466.48,267.78 467.04,267.80 C467.59,267.82 468.42,267.85 468.70,267.86" fill="none" stroke="#e6e070" stroke-width="1.15" stroke-linejoin="round"/>
<path d="M302.20,269.15 C302.48,269.15 303.31,269.14 303.87,269.13 C304.42,269.13 304.98,269.12 305.53,269.11 C306.09,269.10 306.64,269.09 307.19,269.08 C307.75,269.08 308.31,269.07 308.86,269.05 C309.42,269.04 309.97,269.03 310.53,269.02 C311.08,269.01 311.63,269.00 312.19,268.98 C312.75,268.97 313.30,268.95 313.86,268.94 C314.41,268.92 314.96,268.90 315.52,268.88 C316.07,268.87 316.63,268.85 317.19,268.82 C317.74,268.80 318.30,268.78 318.85,268.75 C319.41,268.73 319.96,268.70 320.51,268.67 C321.07,268.64 321.62,268.61 322.18,268.58 C322.74,268.54 323.29,268.51 323.85,268.47 C324.40,268.43 324.95,268.39 325.51,268.34 C326.06,268.29 326.62,268.24 327.18,268.19 C327.73,268.14 328.29,268.08 328.84,268.02 C329.40,267.96 329.95,267.89 330.50,267.82 C331.06,267.74 331.62,267.67 332.17,267.58 C332.73,267.50 333.28,267.41 333.84,267.31 C334.39,267.21 334.94,267.10 335.50,266.99 C336.06,266.87 336.61,266.75 337.17,266.62 C337.72,266.48 338.28,266.34 338.83,266.19 C339.39,266.03 339.94,265.87 340.50,265.69 C341.05,265.51 341.61,265.31 342.16,265.11 C342.72,264.90 343.27,264.67 343.82,264.43 C344.38,264.19 344.94,263.94 345.49,263.66 C346.05,263.38 346.60,263.09 347.16,262.77 C347.71,262.45 348.26,262.11 348.82,261.75 C349.38,261.39 349.93,261.00 350.49,260.59 C351.04,260.18 351.60,259.74 352.15,259.27 C352.71,258.81 353.26,258.32 353.81,257.79 C354.37,257.27 354.93,256.72 355.48,256.14 C356.04,255.56 356.59,254.95 357.14,254.31 C357.70,253.68 358.25,253.01 358.81,252.31 C359.37,251.62 359.92,250.89 360.48,250.15 C361.03,249.40 361.58,248.63 362.14,247.84 C362.69,247.05 363.25,246.23 363.81,245.41 C364.36,244.59 364.92,243.74 365.47,242.90 C366.03,242.07 366.58,241.21 367.13,240.37 C367.69,239.54 368.25,238.69 368.80,237.88 C369.36,237.07 369.91,236.26 370.47,235.49 C371.02,234.73 371.57,233.98 372.13,233.29 C372.69,232.60 373.24,231.94 373.80,231.35 C374.35,230.77 374.91,230.22 375.46,229.75 C376.02,229.29 376.57,228.88 377.12,228.56 C377.68,228.24 378.24,227.98 378.79,227.82 C379.35,227.66 379.90,227.56 380.46,227.57 C381.01,227.58 381.56,227.68 382.12,227.89 C382.68,228.10 383.23,228.43 383.79,228.83 C384.34,229.24 384.89,229.75 385.45,230.32 C386.00,230.88 386.56,231.54 387.12,232.22 C387.67,232.91 388.23,233.66 388.78,234.42 C389.34,235.19 389.89,236.00 390.44,236.80 C391.00,237.60 391.56,238.42 392.11,239.23 C392.67,240.03 393.22,240.84 393.78,241.63 C394.33,242.42 394.88,243.19 395.44,243.94 C396.00,244.69 396.55,245.42 397.11,246.12 C397.66,246.82 398.21,247.50 398.77,248.15 C399.32,248.79 399.88,249.41 400.44,250.00 C400.99,250.60 401.55,251.16 402.10,251.70 C402.66,252.24 403.21,252.75 403.76,253.23 C404.32,253.72 404.88,254.18 405.43,254.62 C405.99,255.05 406.54,255.47 407.10,255.86 C407.65,256.26 408.20,256.63 408.76,256.98 C409.31,257.34 409.87,257.67 410.43,257.99 C410.98,258.31 411.54,258.61 412.09,258.89 C412.65,259.18 413.20,259.45 413.75,259.71 C414.31,259.97 414.87,260.21 415.42,260.44 C415.98,260.67 416.53,260.89 417.09,261.10 C417.64,261.31 418.19,261.51 418.75,261.70 C419.31,261.89 419.86,262.07 420.42,262.24 C420.97,262.41 421.53,262.58 422.08,262.73 C422.64,262.89 423.19,263.03 423.75,263.18 C424.30,263.32 424.86,263.45 425.41,263.58 C425.97,263.71 426.52,263.83 427.07,263.95 C427.63,264.07 428.19,264.18 428.74,264.29 C429.30,264.39 429.85,264.50 430.41,264.59 C430.96,264.69 431.51,264.79 432.07,264.88 C432.62,264.97 433.18,265.05 433.74,265.14 C434.29,265.22 434.84,265.30 435.40,265.37 C435.95,265.45 436.51,265.52 437.06,265.59 C437.62,265.67 438.18,265.73 438.73,265.80 C439.29,265.86 439.84,265.92 440.39,265.99 C440.95,266.05 441.50,266.10 442.06,266.16 C442.62,266.21 443.17,266.27 443.73,266.32 C444.28,266.37 444.83,266.42 445.39,266.47 C445.94,266.52 446.50,266.56 447.06,266.61 C447.61,266.65 448.17,266.70 448.72,266.74 C449.28,266.78 449.83,266.82 450.38,266.86 C450.94,266.90 451.50,266.94 452.05,266.97 C452.61,267.01 453.16,267.04 453.72,267.08 C454.27,267.11 454.82,267.15 455.38,267.18 C455.94,267.21 456.49,267.24 457.05,267.27 C457.60,267.30 458.16,267.33 458.71,267.36 C459.27,267.39 459.82,267.41 460.38,267.44 C460.93,267.47 461.49,267.49 462.04,267.52 C462.60,267.54 463.15,267.56 463.71,267.59 C464.26,267.61 464.81,267.63 465.37,267.66 C465.93,267.68 466.48,267.70 467.04,267.72 C467.59,267.74 468.42,267.77 468.70,267.78" fill="none" stroke="#4a4636" stroke-width="1.15" stroke-linejoin="round"/>
<line x1="435.50" y1="199.50" x2="444.50" y2="199.50" stroke="#d4c4d8" stroke-width="1.0"/>
<text x="444.5" y="201.9" font-size="6.4" fill="#262626" font-weight="normal" textLength="20.0" lengthAdjust="spacingAndGlyphs" stroke="#262626" stroke-width="0.12">2019q4</text>
<line x1="435.50" y1="211.70" x2="444.50" y2="211.70" stroke="#3e3e32" stroke-width="1.0" stroke-dasharray="2.8,2.6"/>
<text x="444.5" y="214.1" font-size="6.4" fill="#262626" font-weight="normal" textLength="20.0" lengthAdjust="spacingAndGlyphs" stroke="#262626" stroke-width="0.12">2020q1</text>
<line x1="435.50" y1="223.20" x2="444.50" y2="223.20" stroke="#e6e070" stroke-width="1.0"/>
<text x="444.5" y="225.6" font-size="6.4" fill="#262626" font-weight="normal" textLength="20.0" lengthAdjust="spacingAndGlyphs" stroke="#262626" stroke-width="0.12">2021q4</text>
<line x1="435.50" y1="234.40" x2="444.50" y2="234.40" stroke="#4a4636" stroke-width="1.0"/>
<text x="444.5" y="236.8" font-size="6.4" fill="#262626" font-weight="normal" textLength="20.0" lengthAdjust="spacingAndGlyphs" stroke="#262626" stroke-width="0.12">2022q1</text>
<rect x="319" y="183.6" width="134" height="8.3" fill="#f6fafc"/>
<text x="324.2" y="190.4" font-size="7.8" fill="#5364a0" font-weight="bold" textLength="126.4" lengthAdjust="spacingAndGlyphs">Canada: 5-year inflation expectations</text>
<text x="289.4" y="285.2" font-size="6.0" fill="#262626" font-weight="normal" textLength="112.2" lengthAdjust="spacingAndGlyphs" stroke="#262626" stroke-width="0.12">Sources: Bank of Canada, IMF staff calculations.</text>
<text x="289.4" y="291.6" font-size="5.2" fill="#262626" font-weight="normal" textLength="187.9" lengthAdjust="spacingAndGlyphs" stroke="#262626" stroke-width="0.12">Note: This chart was constructed by fitting a skewed t distribution to percentiles of point</text>
<text x="289.4" y="298.3" font-size="5.2" fill="#262626" font-weight="normal" textLength="123.1" lengthAdjust="spacingAndGlyphs" stroke="#262626" stroke-width="0.12">forecasts, unlike the other charts which fit a kernel density.</text>
<text x="10.9" y="307.4" font-size="5.6" font-weight="bold" fill="#c4c4c4" textLength="121.4" lengthAdjust="spacingAndGlyphs">IMF | MONETARY AND CAPITAL MARKETS</text>
</svg>
</body></html>
